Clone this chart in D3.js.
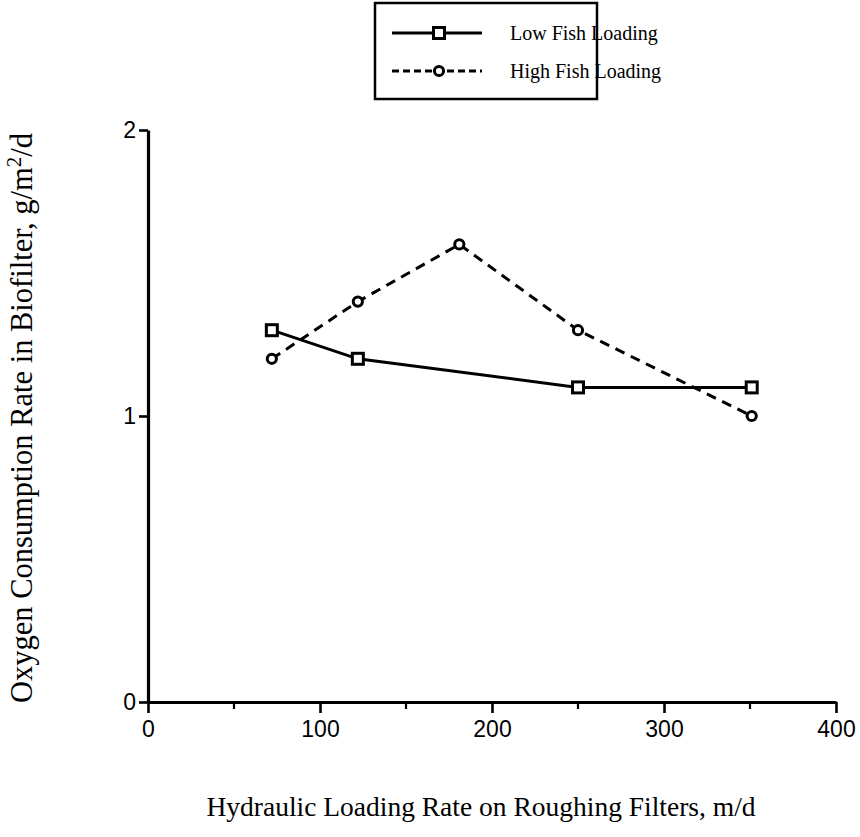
<!DOCTYPE html>
<html>
<head>
<meta charset="utf-8">
<script src="https://cdn.jsdelivr.net/npm/d3@7"></script>
<style>
  html, body { margin: 0; padding: 0; background: #fff; }
  svg { display: block; }
</style>
</head>
<body>
<svg id="chart" width="860" height="837"></svg>
<script>
// Hydraulic loading rate (m/d) and oxygen consumption (g/m2/d)
const lowLoadingX = [72, 122, 250, 351];
const lowLoadingY = [1.3, 1.2, 1.1, 1.1];
const highLoadingX = [72, 122, 181, 250, 351];
const highLoadingY = [1.2, 1.4, 1.6, 1.3, 1.0];
const xTicks = [0, 100, 200, 300, 400];
const xMinorTicks = [50, 150, 250, 350];
const yTicks = [0, 1, 2];
const seriesNames = ["Low Fish Loading", "High Fish Loading"];

const svg = d3.select("#chart");
const x = d3.scaleLinear().domain([0, 400]).range([148, 836]);
const y = d3.scaleLinear().domain([0, 2]).range([702, 130]);

const serif = "'Liberation Serif', 'Times New Roman', serif";
const sans = "'Liberation Sans', Arial, sans-serif";

// X axis
const xAxis = svg.append("g").attr("transform", `translate(0,${y(0)})`)
  .call(d3.axisBottom(x).tickValues(xTicks).tickFormat(d3.format("d"))
    .tickSize(11).tickPadding(8).tickSizeOuter(0));
xAxis.attr("font-size", 23).attr("font-family", sans);
xAxis.select(".domain").attr("stroke-width", 3.2);
xAxis.selectAll(".tick line").attr("stroke-width", 2.6);
xAxis.selectAll(".tick text").attr("fill", "#000");
svg.append("g").attr("transform", `translate(0,${y(0)})`)
  .selectAll("line").data(xMinorTicks).join("line")
  .attr("x1", d => x(d)).attr("x2", d => x(d))
  .attr("y1", 0).attr("y2", 7)
  .attr("stroke", "#000").attr("stroke-width", 2.2);

// Y axis
const yAxis = svg.append("g").attr("transform", `translate(${x(0)},0)`)
  .call(d3.axisLeft(y).tickValues(yTicks).tickFormat(d3.format("d"))
    .tickSize(9).tickPadding(3).tickSizeOuter(0));
yAxis.attr("font-size", 23).attr("font-family", sans);
yAxis.select(".domain").attr("stroke-width", 3.2);
yAxis.selectAll(".tick line").attr("stroke-width", 2.6);
yAxis.selectAll(".tick text").attr("fill", "#000");

// Axis titles
svg.append("text")
  .attr("x", 481).attr("y", 816)
  .attr("text-anchor", "middle")
  .attr("font-family", serif).attr("font-size", 27.5)
  .text("Hydraulic Loading Rate on Roughing Filters, m/d");

const yTitle = svg.append("text")
  .attr("transform", `translate(32,418) rotate(-90)`)
  .attr("text-anchor", "middle")
  .attr("font-family", serif).attr("font-size", 30.5);
yTitle.append("tspan").text("Oxygen Consumption Rate in Biofilter, g/m");
yTitle.append("tspan").attr("dy", -11).attr("font-size", 21).text("2");
yTitle.append("tspan").attr("dy", 11).text("/d");

// Series
const low = lowLoadingX.map((v, i) => [v, lowLoadingY[i]]);
const high = highLoadingX.map((v, i) => [v, highLoadingY[i]]);
const line = d3.line().x(d => x(d[0])).y(d => y(d[1]));

svg.append("path").datum(low).attr("d", line)
  .attr("fill", "none").attr("stroke", "#000").attr("stroke-width", 3);
svg.append("path").datum(high).attr("d", line)
  .attr("fill", "none").attr("stroke", "#000").attr("stroke-width", 3)
  .attr("stroke-dasharray", "10,7");

const sq = 11;
svg.append("g").selectAll("rect").data(low).join("rect")
  .attr("x", d => x(d[0]) - sq / 2).attr("y", d => y(d[1]) - sq / 2)
  .attr("width", sq).attr("height", sq)
  .attr("fill", "#fff").attr("stroke", "#000").attr("stroke-width", 3);
svg.append("g").selectAll("circle").data(high).join("circle")
  .attr("cx", d => x(d[0])).attr("cy", d => y(d[1])).attr("r", 4.6)
  .attr("fill", "#fff").attr("stroke", "#000").attr("stroke-width", 3);

// Legend
const legend = svg.append("g");
legend.append("rect")
  .attr("x", 375).attr("y", 3).attr("width", 222).attr("height", 96)
  .attr("fill", "#fff").attr("stroke", "#000").attr("stroke-width", 2.5);
const rows = [33, 71];
rows.forEach((ly, i) => {
  legend.append("line")
    .attr("x1", 392).attr("x2", 482).attr("y1", ly).attr("y2", ly)
    .attr("stroke", "#000").attr("stroke-width", 3)
    .attr("stroke-dasharray", i === 0 ? null : "7,4");
  if (i === 0) {
    legend.append("rect").attr("x", 439 - sq / 2).attr("y", ly - sq / 2)
      .attr("width", sq).attr("height", sq)
      .attr("fill", "#fff").attr("stroke", "#000").attr("stroke-width", 3);
  } else {
    legend.append("circle").attr("cx", 439).attr("cy", ly).attr("r", 4.6)
      .attr("fill", "#fff").attr("stroke", "#000").attr("stroke-width", 3);
  }
  legend.append("text")
    .attr("x", 510).attr("y", ly + 7)
    .attr("font-family", serif).attr("font-size", 20)
    .text(seriesNames[i]);
});
</script>
</body>
</html>
